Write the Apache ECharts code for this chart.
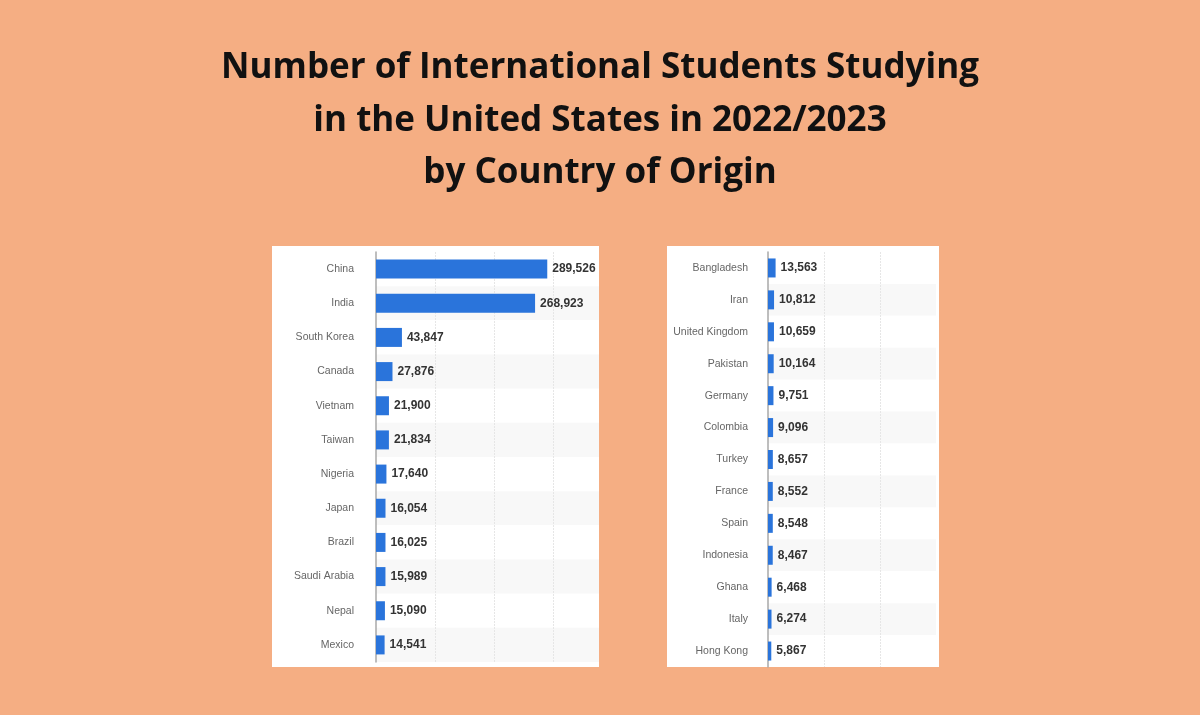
<!DOCTYPE html>
<html>
<head>
<meta charset="UTF-8">
<title>international students</title>
<script src="https://cdn.jsdelivr.net/npm/echarts@6/dist/echarts.min.js"></script>
<style>
  html, body { margin: 0; padding: 0; background: #f5ae83; }
  #chart { width: 1200px; height: 715px; }
</style>
</head>
<body>
<div id="chart"></div>
<script>
// left panel
var leftCountries = ['China', 'India', 'South Korea', 'Canada', 'Vietnam', 'Taiwan',
  'Nigeria', 'Japan', 'Brazil', 'Saudi Arabia', 'Nepal', 'Mexico'];
var leftValues = [289526, 268923, 43847, 27876, 21900, 21834, 17640, 16054, 16025, 15989, 15090, 14541];

// right panel
var rightCountries = ['Bangladesh', 'Iran', 'United Kingdom', 'Pakistan', 'Germany', 'Colombia',
  'Turkey', 'France', 'Spain', 'Indonesia', 'Ghana', 'Italy', 'Hong Kong'];
var rightValues = [13563, 10812, 10659, 10164, 9751, 9096, 8657, 8552, 8548, 8467, 6468, 6274, 5867];

var titleText = 'Number of International Students Studying\nin the United States in 2022/2023\nby Country of Origin';

var barColor = '#2a74db';

function fmt(v) {
  return String(v).replace(/\B(?=(\d{3})+(?!\d))/g, ',');
}

function catAxis(idx, data, margin) {
  return {
    type: 'category',
    gridIndex: idx,
    data: data,
    inverse: true,
    axisLine: { show: true, lineStyle: { color: '#a8a8a8', width: 1.5 } },
    axisTick: { show: false },
    axisLabel: { color: '#666', fontSize: 10.5, fontFamily: 'Liberation Sans', margin: margin },
    splitArea: { show: true, areaStyle: { color: ['#ffffff', '#f8f8f8'] } },
    z: 0
  };
}

function valAxis(idx, max) {
  return {
    type: 'value',
    gridIndex: idx,
    min: 0,
    max: max,
    interval: 100000,
    axisLine: { show: false },
    axisTick: { show: false },
    axisLabel: { show: false },
    splitLine: { show: true, showMinLine: false, showMaxLine: false,
      lineStyle: { color: '#e6e6e6', width: 1, type: [2, 1] } },
    z: 1
  };
}

function barSeries(idx, values) {
  return {
    type: 'bar',
    xAxisIndex: idx,
    yAxisIndex: idx,
    data: values,
    barWidth: 19,
    itemStyle: { color: barColor },
    label: {
      show: true,
      position: 'right',
      distance: 5,
      formatter: function (p) { return fmt(p.value); },
      color: '#333',
      fontSize: 12,
      fontWeight: 'bold',
      fontFamily: 'Liberation Sans'
    },
    z: 4
  };
}

var chart = echarts.init(document.getElementById('chart'));
chart.setOption({
  backgroundColor: '#f5ae83',
  animation: false,
  title: {
    text: titleText,
    left: 'center',
    top: 37,
    textStyle: {
      fontFamily: 'Open Sans',
      fontWeight: 'bold',
      fontSize: 35,
      lineHeight: 52.5,
      color: '#111'
    }
  },
  graphic: [
    { type: 'rect', z: -10, shape: { x: 272, y: 246, width: 327, height: 421 }, style: { fill: '#fff' } },
    { type: 'rect', z: -10, shape: { x: 667, y: 246, width: 272, height: 421 }, style: { fill: '#fff' } }
  ],
  grid: [
    { left: 376, top: 252, width: 223, height: 410 },
    { left: 768, top: 252, width: 168, height: 415 }
  ],
  xAxis: [valAxis(0, 377000), valAxis(1, 300000)],
  yAxis: [catAxis(0, leftCountries, 22), catAxis(1, rightCountries, 20)],
  series: [barSeries(0, leftValues), barSeries(1, rightValues)]
});
</script>
</body>
</html>
